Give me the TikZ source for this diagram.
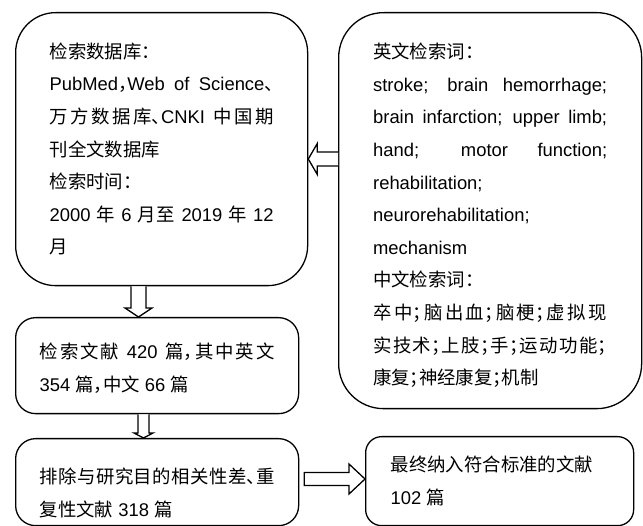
\documentclass[tikz,border=0pt]{standalone}
\usepackage{fontspec}
\setmainfont{Liberation Sans}
\newfontfamily\cjk{Noto Sans CJK SC}[RawFeature=+halt]
\usetikzlibrary{calc}
\XeTeXlinebreaklocale "zh"
\XeTeXlinebreakskip=0pt plus 2pt
\setlength\parindent{0pt}
\setlength\parskip{0pt}
\hyphenpenalty=10000
\tolerance=10000
\hbadness=10000
\newcommand\zh[1]{{\cjk #1}}
\tikzset{
  box/.style={draw, line width=1.3pt, inner sep=0pt, anchor=north west, align=justify,
    font=\fontsize{18.4}{32.6}\selectfont},
  hollow/.style={draw, line width=1.3pt, fill=white, line join=miter}
}
\begin{document}
\begin{tikzpicture}[x=1pt,y=-1pt]
\useasboundingbox (0,0) rectangle (643,526);
\node[box, rounded corners=40pt, minimum width=292pt, minimum height=273pt, text width=224pt] (db) at (15,12) {%
\zh{检索数据库：}\par
PubMed\zh{，}Web of Science\zh{、}\linebreak
\zh{万方数据库、}CNKI \zh{中国期}\linebreak
\zh{刊全文数据库}\par
\zh{检索时间：}\par
2000 \zh{年} 6 \zh{月至} 2019 \zh{年} 12\linebreak
\zh{月}};
\node[box, rounded corners=45pt, minimum width=303pt, minimum height=396pt, text width=234pt] (kw) at (338,12) {%
\rule{0pt}{25pt}\zh{英文检索词：}\par
stroke; brain hemorrhage;\linebreak
brain infarction; upper limb;\linebreak
hand; motor function;\linebreak
rehabilitation;\par
neurorehabilitation;\par
mechanism\par
\zh{中文检索词：}\par
\zh{卒中；脑出血；脑梗；虚拟现}\linebreak
\zh{实技术；上肢；手；运动功能；}\linebreak
\zh{康复；神经康复；机制}};
\node[box, rounded corners=20pt, minimum width=283pt, minimum height=96pt, text width=235pt] (found) at (15,317) {%
\rule{0pt}{21pt}\zh{检索文献} 420 \zh{篇，其中英文}\linebreak
354 \zh{篇，中文} 66 \zh{篇}};
\node[box, rounded corners=20pt, minimum width=283pt, minimum height=87pt, text width=235pt] (excl) at (15,438) {%
\rule{0pt}{37pt}\zh{排除与研究目的相关性差、重}\linebreak
\zh{复性文献} 318 \zh{篇}};
\node[box, rounded corners=16pt, minimum width=268pt, minimum height=89pt, text width=218pt] (final) at (365,436) {%
\zh{最终纳入符合标准的文献}\par
102 \zh{篇}};
% left hollow arrow: keywords -> databases
\coordinate (aTip) at (db.east |- 0,159);
\coordinate (aTail) at (kw.west |- 0,159);
\draw[hollow] ($(aTail)+(0,-7)$) -- ($(aTip)+(9,-7)$) -- ($(aTip)+(9,-15.5)$) -- (aTip)
  -- ($(aTip)+(9,15.5)$) -- ($(aTip)+(9,7)$) -- ($(aTail)+(0,7)$);
% down arrow: databases -> found
\coordinate (bTail) at (db.south -| 138.5,0);
\coordinate (bTip) at (found.north -| 138.5,0);
\draw[hollow] ($(bTail)+(-7.5,0)$) -- ($(bTip)+(-7.5,-9)$) -- ($(bTip)+(-13.5,-9)$) -- (bTip)
  -- ($(bTip)+(13.5,-9)$) -- ($(bTip)+(7.5,-9)$) -- ($(bTail)+(7.5,0)$);
% down arrow: found -> excluded
\coordinate (cTail) at (found.south -| 143.5,0);
\coordinate (cTip) at (excl.north -| 143.5,0);
\draw[hollow] ($(cTail)+(-5.5,0)$) -- ($(cTip)+(-5.5,-5)$) -- ($(cTip)+(-9.5,-5)$) -- (cTip)
  -- ($(cTip)+(9.5,-5)$) -- ($(cTip)+(5.5,-5)$) -- ($(cTail)+(5.5,0)$);
% right arrow: excluded -> final
\coordinate (dTail) at ($(excl.east |- 0,479)+(5,0)$);
\coordinate (dTip) at (final.west |- 0,479);
\draw[hollow] ($(dTail)+(0,-6.5)$) -- ($(dTip)+(-16,-6.5)$) -- ($(dTip)+(-16,-15)$) -- (dTip)
  -- ($(dTip)+(-16,15)$) -- ($(dTip)+(-16,6.5)$) -- ($(dTail)+(0,6.5)$) -- cycle;
\end{tikzpicture}
\end{document}
